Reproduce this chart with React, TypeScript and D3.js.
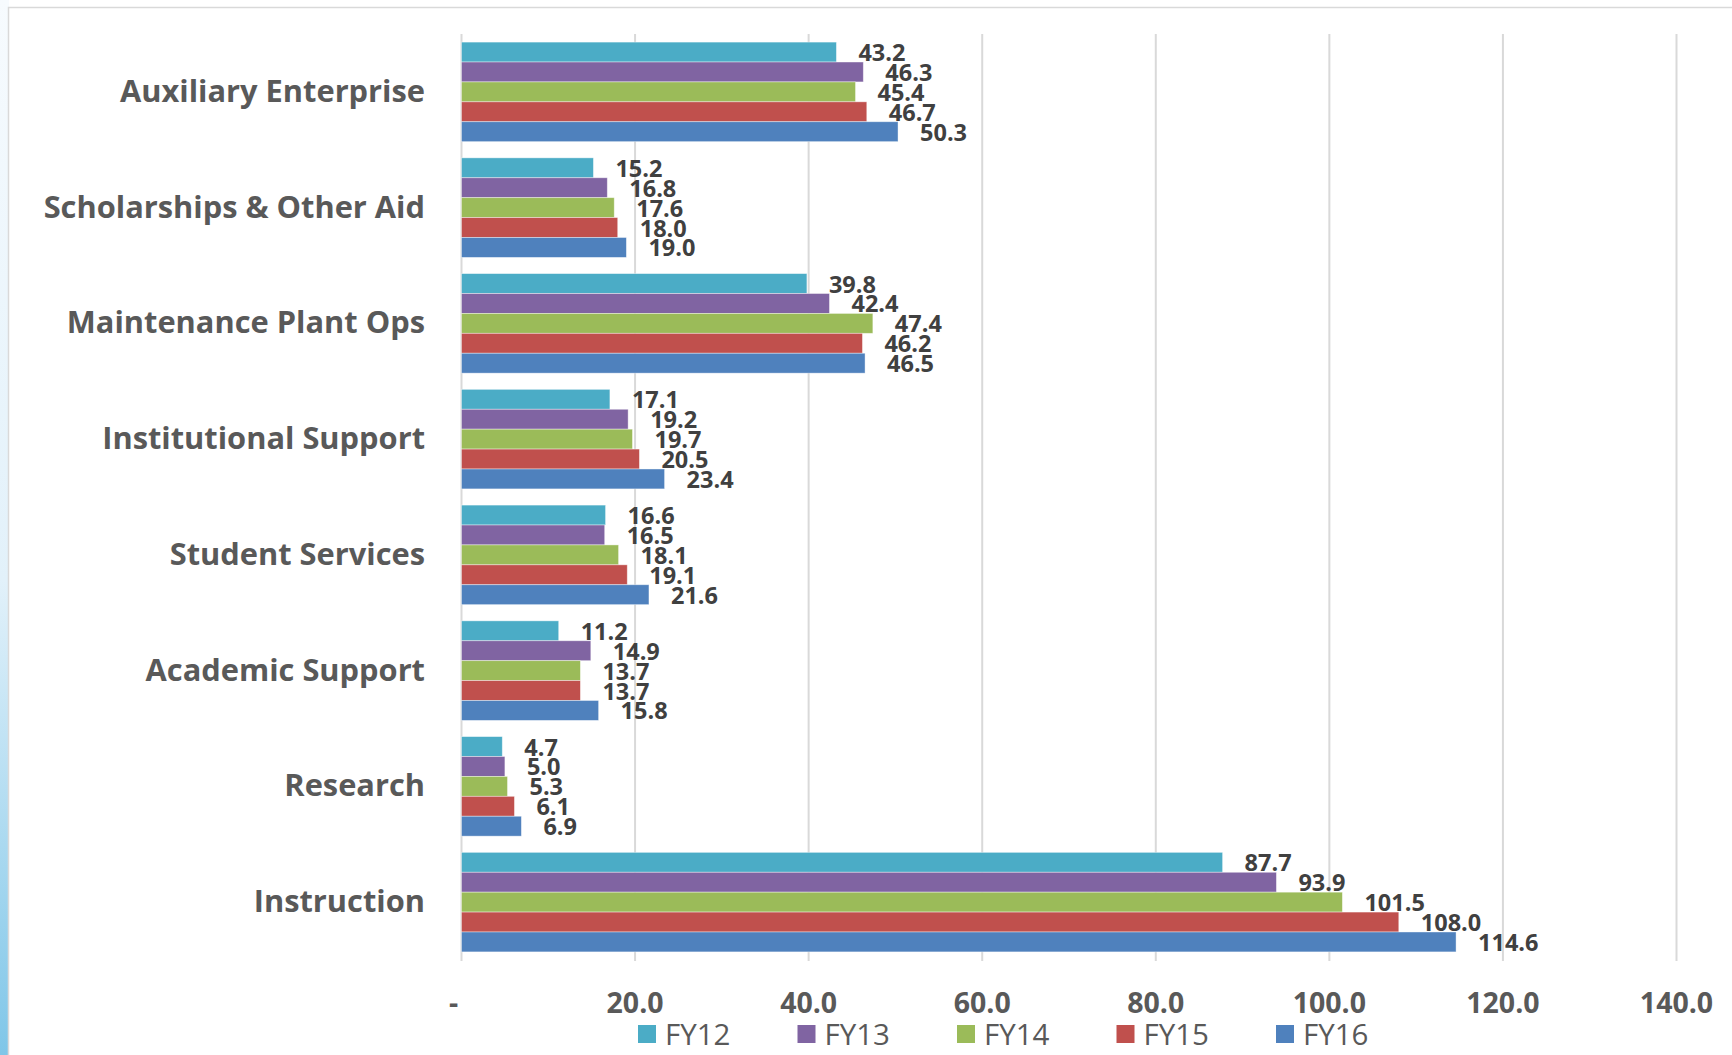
import React from "react";
import * as d3 from "d3";

const categories = [
  "Auxiliary Enterprise",
  "Scholarships & Other Aid",
  "Maintenance Plant Ops",
  "Institutional Support",
  "Student Services",
  "Academic Support",
  "Research",
  "Instruction",
];
const seriesNames = ["FY12", "FY13", "FY14", "FY15", "FY16"];
const seriesColors = ["#4BACC6", "#8064A2", "#9BBB59", "#C0504D", "#4F81BD"];
const FY12 = [43.2, 15.2, 39.8, 17.1, 16.6, 11.2, 4.7, 87.7];
const FY13 = [46.3, 16.8, 42.4, 19.2, 16.5, 14.9, 5.0, 93.9];
const FY14 = [45.4, 17.6, 47.4, 19.7, 18.1, 13.7, 5.3, 101.5];
const FY15 = [46.7, 18.0, 46.2, 20.5, 19.1, 13.7, 6.1, 108.0];
const FY16 = [50.3, 19.0, 46.5, 23.4, 21.6, 15.8, 6.9, 114.6];
const seriesValues = [FY12, FY13, FY14, FY15, FY16];
const tickValues = [0, 20, 40, 60, 80, 100, 120, 140];

const W = 1732;
const H = 1055;
const FONT = "'Open Sans', 'DejaVu Sans', sans-serif";

export default function App() {
  const x = d3.scaleLinear().domain([0, 140]).range([461.5, 1676.5]);
  const y = d3
    .scaleBand<string>()
    .domain(categories)
    .range([34, 960])
    .paddingInner(0.14)
    .paddingOuter(0.07);
  const inner = d3
    .scaleBand<string>()
    .domain(seriesNames)
    .range([0, y.bandwidth()]);

  const fmt = (v: number) => (v === 0 ? "-" : d3.format(".1f")(v));

  return (
    <svg
      width={W}
      height={H}
      style={{ position: "absolute", left: 0, top: 0 }}
      fontFamily={FONT}
    >
      <defs>
        <linearGradient id="bgstrip" x1="0" y1="0" x2="0" y2="1">
          <stop offset="0" stopColor="#f7fbfe" />
          <stop offset="0.55" stopColor="#e2f1fa" />
          <stop offset="1" stopColor="#7fc6e8" />
        </linearGradient>
      </defs>
      <rect x={0} y={0} width={W} height={H} fill="#ffffff" />
      <rect x={0} y={0} width={9} height={H} fill="url(#bgstrip)" />
      <rect
        x={8.5}
        y={7.5}
        width={W + 10}
        height={H + 10}
        fill="#ffffff"
        stroke="#d9d9d9"
        strokeWidth={1.5}
      />

      {/* gridlines */}
      {tickValues.map((t) => (
        <line
          key={"g" + t}
          x1={x(t)}
          x2={x(t)}
          y1={34}
          y2={961}
          stroke="#d9d9d9"
          strokeWidth={2}
        />
      ))}

      {/* bars */}
      {categories.map((c, ci) => (
        <g key={c} transform={`translate(0,${y(c)})`}>
          {seriesNames.map((s, si) => {
            const v = seriesValues[si][ci];
            const by = inner(s) as number;
            return (
              <g key={s}>
                <rect
                  x={x(0)}
                  y={by}
                  width={x(v) - x(0)}
                  height={inner.bandwidth()}
                  fill={seriesColors[si]}
                  stroke="#ffffff"
                  strokeOpacity={0.5}
                  strokeWidth={0.8}
                />
                <text
                  x={x(v) + 22}
                  y={by + inner.bandwidth() / 2}
                  dominantBaseline="central"
                  fontSize={23.5}
                  fontWeight="bold"
                  fill="#404040"
                >
                  {fmt(v)}
                </text>
              </g>
            );
          })}
        </g>
      ))}

      {/* category labels */}
      {categories.map((c) => (
        <text
          key={"l" + c}
          x={425}
          y={(y(c) as number) + y.bandwidth() / 2 - 2}
          textAnchor="end"
          dominantBaseline="central"
          fontSize={30.8}
          fontWeight="bold"
          fill="#595959"
        >
          {c}
        </text>
      ))}

      {/* x tick labels */}
      {tickValues.map((t) => (
        <text
          key={"t" + t}
          x={t === 0 ? x(t) - 8 : x(t)}
          y={1002}
          textAnchor="middle"
          dominantBaseline="central"
          fontSize={28.5}
          fontWeight="bold"
          fill="#595959"
        >
          {fmt(t)}
        </text>
      ))}

      {/* legend */}
      {seriesNames.map((s, i) => (
        <g key={"lg" + s} transform={`translate(${638 + i * 159.5},1034)`}>
          <rect x={0} y={-9} width={18} height={18} fill={seriesColors[i]} />
          <text
            x={27}
            y={-1}
            dominantBaseline="central"
            fontSize={29.5}
            fill="#595959"
          >
            {s}
          </text>
        </g>
      ))}
    </svg>
  );
}
